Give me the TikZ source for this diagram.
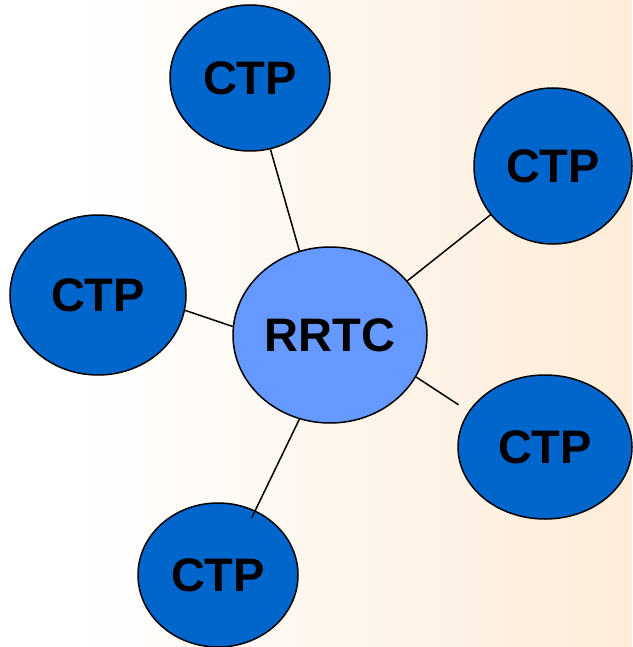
\documentclass[tikz,border=0pt]{standalone}
\usepackage{fontspec}
\setmainfont{Liberation Sans}
\usetikzlibrary{shapes.geometric}
\definecolor{ctpblue}{RGB}{0,102,204}
\definecolor{rrtcblue}{RGB}{102,153,255}
\definecolor{peach}{RGB}{253,236,216}
\tikzset{
  ctp/.style={ellipse, draw=black, line width=1.5pt, fill=ctpblue, inner sep=0pt,
    font=\fontsize{47}{50}\selectfont\bfseries},
  hub/.style={ctp, fill=rrtcblue},
  link/.style={draw=black, line width=1.5pt}
}
\begin{document}
\begin{tikzpicture}[x=1pt,y=-1pt]
\useasboundingbox (0,0) rectangle (632,647);
\fill[white] (0,0) rectangle (80,647);
\shade[left color=white, right color=peach] (79,0) rectangle (632,647);
\node[hub, minimum width=194pt, minimum height=176pt] (rrtc) at (330,335) {RRTC};
\node[ctp, minimum width=160pt, minimum height=146pt] (top) at (250,78) {CTP};
\node[ctp, minimum width=158pt, minimum height=156pt] (ru) at (553,166) {CTP};
\node[ctp, minimum width=176pt, minimum height=160pt] (left) at (98,295) {CTP};
\node[ctp, minimum width=174pt, minimum height=144pt] (rl) at (545,447) {CTP};
\node[ctp, minimum width=160pt, minimum height=144pt] (bot) at (218,575) {CTP};
\draw[link] (top.-74.5) -- (rrtc.110);
\draw[link] (ru.218) -- (rrtc.35.5);
\draw[link] (left.-10.4) -- (rrtc.175);
\draw[link, shorten >=12pt] (rrtc.-26.6) -- (rl.155);
\draw[link, shorten >=-8pt] (rrtc.-110) -- (bot.60);
\end{tikzpicture}
\end{document}
